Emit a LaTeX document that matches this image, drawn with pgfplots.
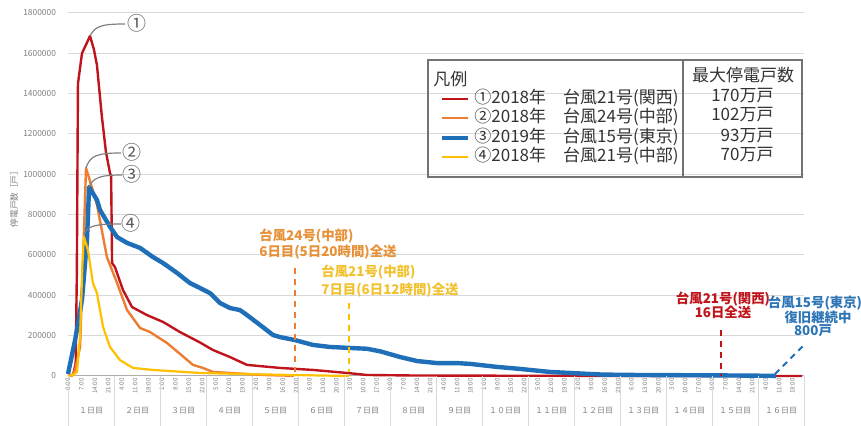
\documentclass[border=0pt]{standalone}
\usepackage{fontspec}
\setmainfont{Noto Sans CJK JP}
\usepackage{pgfplots}
\pgfplotsset{compat=1.18}
\definecolor{cRed}{HTML}{C0141C}
\definecolor{cOrange}{HTML}{ED7D31}
\definecolor{cBlue}{HTML}{1E6FB8}
\definecolor{cYellow}{HTML}{FFC000}
\definecolor{cGrid}{HTML}{D9D9D9}
\definecolor{cTick}{HTML}{808080}
\definecolor{cLead}{HTML}{7F7F7F}
\definecolor{tOrange}{HTML}{E69138}
\definecolor{tYellow}{HTML}{F2C12E}
\definecolor{tRed}{HTML}{C0141C}
\definecolor{tBlue}{HTML}{2E75B6}
\newcommand{\leg}{\fontsize{8.5}{10}\selectfont}
\newcommand{\ann}{\fontsize{6.7}{8}\selectfont\bfseries}
\newcommand{\circf}{\fontsize{9.5}{11}\selectfont}
\begin{document}
\begin{tikzpicture}
\useasboundingbox (0,0) rectangle (430.5pt,213pt);
\begin{axis}[at={(34pt,25pt)}, anchor=south west, scale only axis,
  width=368pt, height=181.5pt,
  xmin=0, xmax=384, ymin=0, ymax=1800000, clip=false,
  axis lines*=left,
  y axis line style={draw=none},
  x axis line style={draw=cGrid!80!black, line width=0.5pt},
  major tick length=0,
  ytick={0,200000,400000,600000,800000,1000000,1200000,1400000,1600000,1800000},
  ymajorgrids, grid style={cGrid, line width=0.5pt},
  scaled y ticks=false,
  yticklabel style={font=\fontsize{4.2}{5}\selectfont, text=cTick,
    /pgf/number format/fixed, /pgf/number format/set thousands separator={},
    /pgf/number format/assume math mode=true, xshift=-2.5pt},
  xtick={0,7,...,378},
  xticklabels={0:00,7:00,14:00,21:00,4:00,11:00,18:00,1:00,8:00,15:00,22:00,5:00,12:00,19:00,2:00,9:00,16:00,23:00,6:00,13:00,20:00,3:00,10:00,17:00,
  0:00,7:00,14:00,21:00,4:00,11:00,18:00,1:00,8:00,15:00,22:00,5:00,12:00,19:00,2:00,9:00,16:00,23:00,6:00,13:00,20:00,3:00,10:00,17:00,
  0:00,7:00,14:00,21:00,4:00,11:00,18:00},
  xticklabel style={rotate=90, anchor=east, font=\fontsize{3.1}{4}\selectfont, text=cTick, inner sep=1pt},
]
% (1) 2018 Typhoon 21 Kansai
\addplot[cRed, line width=1.2pt, line join=round] coordinates {
(0,0)(2.6,5000)(4.0,60000)(4.6,500000)(5.2,1450000)(7.3,1600000)(11.5,1686000)(13.5,1620000)(15.1,1542000)(17.7,1284000)(19.8,1111000)(21.9,1007000)(22.5,990000)(23.0,560000)(24.5,540000)(28.7,426000)(33.4,342000)(41.2,302000)(49.6,268000)(58.4,218000)(68.9,166000)(75.6,129000)(84.5,94000)(93.4,55000)(110.6,40000)(127.8,30000)(145.6,15000)(156,5000)(180,2500)(220,1500)(280,800)(340,300)(383,0)};
% (2) 2018 Typhoon 24 Chubu
\addplot[cOrange, line width=1.2pt, line join=round] coordinates {
(0,0)(2,2000)(3.7,30000)(6.3,144000)(7.6,500000)(9.4,1031000)(12,950000)(15.1,850000)(20.3,590000)(25.6,461000)(30.8,327000)(37.6,238000)(42.8,218000)(51.6,164000)(58.4,110000)(65.2,55000)(70.4,40000)(75.6,20000)(84.5,15000)(102,5000)(118,1000)};
% (3) 2019 Typhoon 15 Tokyo
\addplot[cBlue, line width=2.2pt, line join=round] coordinates {
(0,10000)(3.7,178000)(7.3,377000)(9.9,674000)(11,937000)(15.1,873000)(16.7,823000)(21.9,740000)(25.6,689000)(30.8,660000)(37.6,635000)(44.3,590000)(49.6,560000)(56.9,511000)(63.6,461000)(68.9,436000)(74.1,411000)(79.3,362000)(84.5,337000)(89.7,327000)(93.4,302000)(100.2,253000)(107,203000)(110.6,193000)(118.4,178000)(127.8,154000)(136.7,144000)(147.1,139000)(156,135000)(163,122000)(173.3,94000)(182.2,74000)(192.6,64000)(203,64000)(209.8,60000)(223.9,45000)(235.9,35000)(251.5,20000)(262,15000)(272.4,10000)(279,7000)(297,5000)(340,3000)(369.4,800)};
% (4) 2018 Typhoon 21 Chubu
\addplot[cYellow, line width=1.1pt, line join=round] coordinates {
(0,0)(2.6,5000)(4.7,20000)(6.3,200000)(7.5,550000)(8.3,690000)(10.4,625000)(13,461000)(15.1,411000)(18.3,243000)(21.9,144000)(27.1,79000)(33.9,40000)(44.3,30000)(68.9,15000)(100,8000)(146.6,0)};
% event markers
\draw[cOrange, line width=1pt, dash pattern=on 3pt off 2.5pt] (axis cs:118.4,535500) -- (axis cs:118.4,20000);
\draw[cYellow, line width=1pt, dash pattern=on 3pt off 2.5pt] (axis cs:146.6,362000) -- (axis cs:146.6,20000);
\draw[cRed, line width=1pt, dash pattern=on 3pt off 2.5pt] (axis cs:340.7,228000) -- (axis cs:340.7,0);
\draw[cBlue, line width=1pt, dash pattern=on 3pt off 2.5pt] (axis cs:368.9,9900) -- (axis cs:383.5,148800);
\end{axis}
\begin{scope}[x=0.5pt,y=-0.5pt,yshift=213pt]
% day separators and labels
\foreach \k in {0,...,16} \draw[cGrid, line width=0.5pt] ({68+46*\k},376) -- ({68+46*\k},426);
\foreach \k/\l in {1/１,2/２,3/３,4/４,5/５,6/６,7/７,8/８,9/９,10/１０,11/１１,12/１２,13/１３,14/１４,15/１５,16/１６}
  \node[font=\fontsize{4}{5}\selectfont, text=cTick, inner sep=0] at ({68+46*\k-23},411) {\l 日目};
% y label
\node[rotate=90, font=\fontsize{4.3}{5}\selectfont, text=cTick] at (14,197) {停電戸数［戸］};
% legend
\draw[black!55, line width=0.6pt] (428,60) rectangle (802,177);
\draw[black!55, line width=0.6pt] (683,60) -- (683,177);
\node[anchor=west, font=\leg, text=black!80, inner sep=0] at (433,79) {凡例};
\node[font=\leg, text=black!80, inner sep=0] at (743,75) {最大停電戸数};
\draw[cRed, line width=1pt] (442,99) -- (468,99);
\draw[cOrange, line width=1pt] (442,118) -- (468,118);
\draw[cBlue, line width=2pt] (442,138) -- (468,138);
\draw[cYellow, line width=1pt] (442,157) -- (468,157);
\node[anchor=west, font=\leg, text=black!80, inner sep=0] at (474,98) {①2018年　台風21号(関西)};
\node[anchor=west, font=\leg, text=black!80, inner sep=0] at (474,117) {②2018年　台風24号(中部)};
\node[anchor=west, font=\leg, text=black!80, inner sep=0] at (474,137) {③2019年　台風15号(東京)};
\node[anchor=west, font=\leg, text=black!80, inner sep=0] at (474,156) {④2018年　台風21号(中部)};
\node[anchor=east, font=\leg, text=black!80, inner sep=0] at (774,96) {170万戸};
\node[anchor=east, font=\leg, text=black!80, inner sep=0] at (774,115) {102万戸};
\node[anchor=east, font=\leg, text=black!80, inner sep=0] at (774,136) {93万戸};
\node[anchor=east, font=\leg, text=black!80, inner sep=0] at (774,155) {70万戸};
% circled labels and leaders
\draw[cLead, line width=0.6pt] (90,36) .. controls (95,26) and (102,24) .. (125,24);
\draw[cLead, line width=0.6pt] (86,168) .. controls (90,156) and (96,153) .. (121,153);
\draw[cLead, line width=0.6pt] (89,187) .. controls (93,178) and (99,175) .. (122,175);
\draw[cLead, line width=0.6pt] (84,234) .. controls (88,226) and (94,224) .. (121,224);
\node[font=\circf, text=black!65, inner sep=0] at (137,23) {①};
\node[font=\circf, text=black!65, inner sep=0] at (132,152) {②};
\node[font=\circf, text=black!65, inner sep=0] at (132,174) {③};
\node[font=\circf, text=black!65, inner sep=0] at (131,223) {④};
% annotations
\node[anchor=west, font=\ann, text=tOrange, inner sep=0] at (259,236) {台風24号(中部)};
\node[anchor=west, font=\ann, text=tOrange, inner sep=0] at (259,252) {6日目(5日20時間)全送};
\node[anchor=west, font=\ann, text=tYellow, inner sep=0] at (321,272.5) {台風21号(中部)};
\node[anchor=west, font=\ann, text=tYellow, inner sep=0] at (321,290) {7日目(6日12時間)全送};
\node[font=\ann, text=tRed, inner sep=0] at (723,299) {台風21号(関西)};
\node[font=\ann, text=tRed, inner sep=0] at (723,312) {16日全送};
\node[font=\ann, text=tBlue, inner sep=0] at (815,303) {台風15号(東京)};
\node[font=\ann, text=tBlue, inner sep=0] at (818,317) {復旧継続中};
\node[font=\ann, text=tBlue, inner sep=0] at (813,331) {800戸};
\end{scope}
\end{tikzpicture}
\end{document}
